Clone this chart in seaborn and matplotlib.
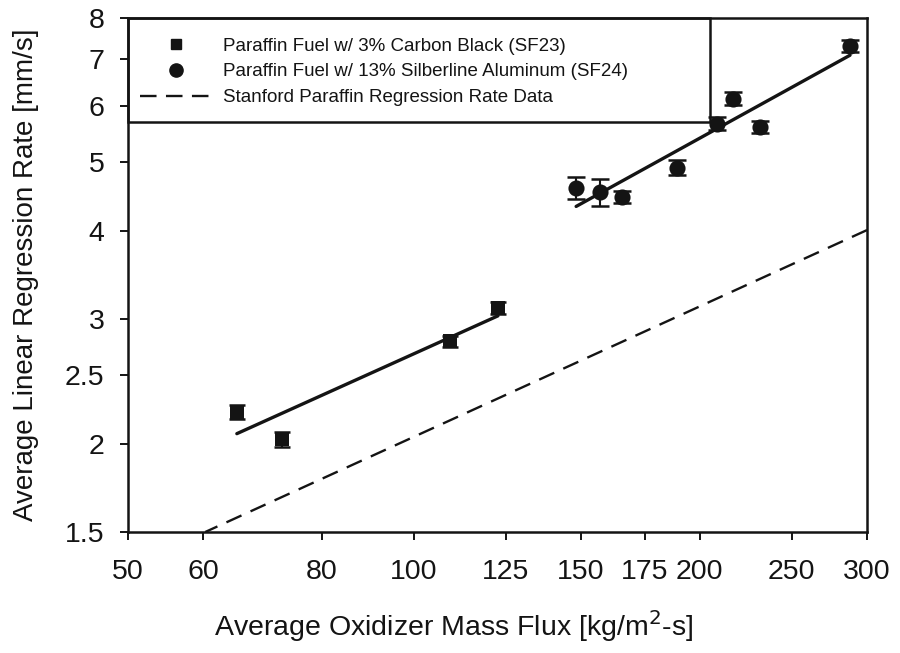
import numpy as np
import pandas as pd
import matplotlib
matplotlib.use("Agg")
import matplotlib.pyplot as plt
import seaborn as sns
from matplotlib.lines import Line2D
from matplotlib.patches import Rectangle
from matplotlib.ticker import FixedLocator, NullLocator, FixedFormatter

# ---- data ----
sf23_flux = [65.1, 72.6, 109.2, 122.6]
sf23_rate = [2.22, 2.03, 2.79, 3.11]
sf23_err = [0.05, 0.05, 0.05, 0.06]

sf24_flux = [148.2, 157.0, 165.6, 189.3, 208.6, 216.8, 231.5, 287.9]
sf24_rate = [4.60, 4.54, 4.47, 4.91, 5.67, 6.15, 5.61, 7.30]
sf24_err = [0.17, 0.20, 0.09, 0.12, 0.12, 0.13, 0.11, 0.15]

stanford_flux = [300.0, 60.3]
stanford_rate = [4.01, 1.50]

x_ticks = [50, 60, 80, 100, 125, 150, 175, 200, 250, 300]
x_tick_labels = ["50", "60", "80", "100", "125", "150", "175", "200", "250", "300"]
y_ticks = [1.5, 2, 2.5, 3, 4, 5, 6, 7, 8]
y_tick_labels = ["1.5", "2", "2.5", "3", "4", "5", "6", "7", "8"]

legend_labels = [
    "Paraffin Fuel w/ 3% Carbon Black (SF23)",
    "Paraffin Fuel w/ 13% Silberline Aluminum (SF24)",
    "Stanford Paraffin Regression Rate Data",
]

# ---- style ----
sns.set_style("ticks")
plt.rcParams["font.family"] = ["Liberation Sans", "DejaVu Sans"]
ink = "#141414"

fig = plt.figure(figsize=(9, 6.53), dpi=100)
ax = fig.add_axes([128 / 900, 1 - 532 / 653, (867 - 128) / 900, (532 - 18) / 653])
ax.set_xscale("log")
ax.set_yscale("log")
ax.set_xlim(50, 300)
ax.set_ylim(1.5, 8)


def power_fit(x, y):
    lx, ly = np.log10(x), np.log10(y)
    m, b = np.polyfit(lx, ly, 1)
    xs = np.array([min(x), max(x)])
    return xs, 10 ** (b + m * np.log10(xs))


df23 = pd.DataFrame({"flux": sf23_flux, "rate": sf23_rate})
df24 = pd.DataFrame({"flux": sf24_flux, "rate": sf24_rate})

fx23, fy23 = power_fit(sf23_flux, sf23_rate)
fx24, fy24 = power_fit(sf24_flux, sf24_rate)

sns.lineplot(x=fx23, y=fy23, ax=ax, color=ink, lw=2.4, zorder=3)
sns.lineplot(x=fx24, y=fy24, ax=ax, color=ink, lw=2.4, zorder=3)
sns.lineplot(x=stanford_flux, y=stanford_rate, ax=ax, color=ink, lw=1.7,
             dashes=False, sort=False, zorder=3)
ax.lines[-1].set_dashes((7, 4.2))

ax.errorbar(sf23_flux, sf23_rate, yerr=sf23_err, fmt="none", ecolor=ink,
            elinewidth=1.5, capsize=6, capthick=1.8, zorder=4)
ax.errorbar(sf24_flux, sf24_rate, yerr=sf24_err, fmt="none", ecolor=ink,
            elinewidth=1.5, capsize=6.5, capthick=1.8, zorder=4)

sns.scatterplot(data=df23, x="flux", y="rate", ax=ax, marker="s", s=95,
                color=ink, edgecolor=ink, linewidth=0, zorder=5)
sns.scatterplot(data=df24, x="flux", y="rate", ax=ax, marker="o", s=135,
                color=ink, edgecolor=ink, linewidth=0, zorder=5)

# ticks
ax.xaxis.set_major_locator(FixedLocator(x_ticks))
ax.xaxis.set_major_formatter(FixedFormatter(x_tick_labels))
ax.xaxis.set_minor_locator(NullLocator())
ax.yaxis.set_major_locator(FixedLocator(y_ticks))
ax.yaxis.set_major_formatter(FixedFormatter(y_tick_labels))
ax.yaxis.set_minor_locator(NullLocator())
ax.tick_params(axis="x", direction="out", length=6, width=1.4, pad=13.5,
               labelsize=20.5, colors=ink)
ax.tick_params(axis="y", direction="out", length=6, width=1.4, pad=11,
               labelsize=20.5, colors=ink)
for sp in ax.spines.values():
    sp.set_visible(True)
    sp.set_linewidth(1.8)
    sp.set_color(ink)

ax.set_xlabel("Average Oxidizer Mass Flux [kg/m$^{2}$-s]", fontsize=20.5, color=ink)
ax.set_ylabel("Average Linear Regression Rate [mm/s]", fontsize=20, color=ink)
ax.xaxis.label.set_va("center")
ax.yaxis.label.set_va("center")
ax.xaxis.set_label_coords((453.5 - 128) / 739, (532 - 626) / 514)
ax.yaxis.set_label_coords((26 - 128) / 739, 0.5)

# legend box
box = Rectangle((0, (532 - 122) / 514), (710 - 128) / 739, 1 - (532 - 122) / 514,
                transform=ax.transAxes, facecolor="white", edgecolor=ink,
                linewidth=1.8, zorder=2, clip_on=False)
ax.add_patch(box)

handles = [
    Line2D([], [], ls="none", marker="s", markersize=6.5, color=ink),
    Line2D([], [], ls="none", marker="o", markersize=9.5, color=ink),
    Line2D([], [], ls=(0, (7, 4)), lw=1.7, color=ink),
]
leg = ax.legend(handles, legend_labels, loc="upper left",
                bbox_to_anchor=(140 / 900, 1 - 37.5 / 653),
                bbox_transform=fig.transFigure, frameon=False,
                fontsize=13.5, handlelength=3.8, handletextpad=0.65,
                labelspacing=0.46, borderpad=0, borderaxespad=0)
leg.set_zorder(6)
for t in leg.get_texts():
    t.set_color(ink)

fig.savefig("out.png", dpi=100, facecolor="white")
